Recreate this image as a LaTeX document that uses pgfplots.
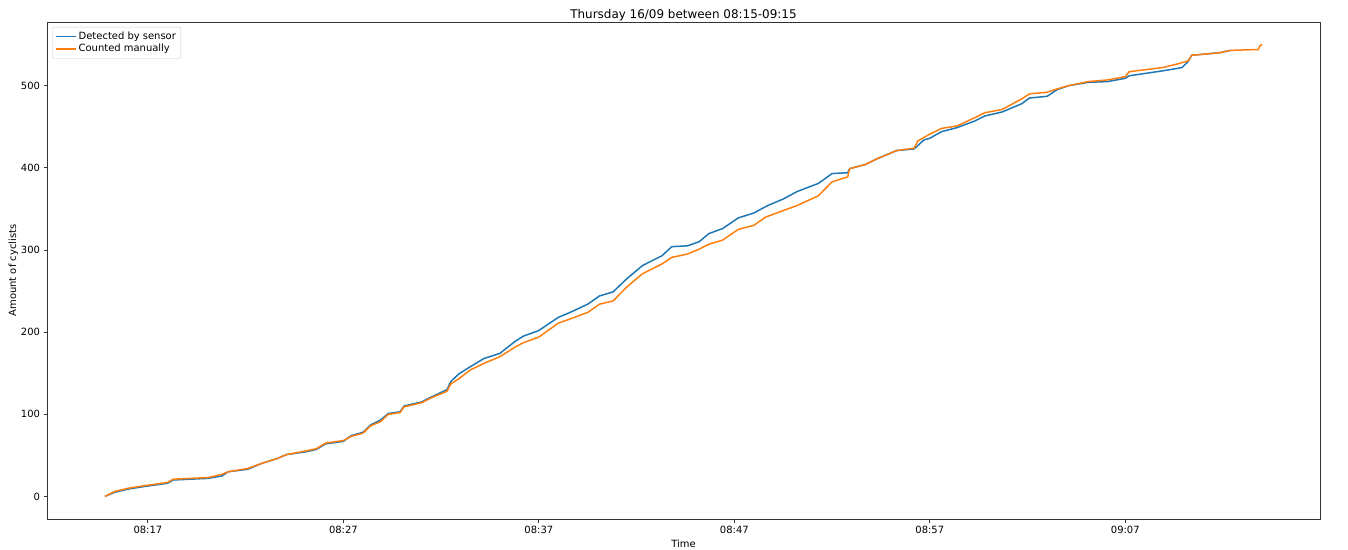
\documentclass[border=0pt]{standalone}
\usepackage{pgfplots}
\pgfplotsset{compat=1.18}
\usepackage{fontspec}
\setmainfont{DejaVu Sans}
\definecolor{mplblue}{HTML}{1F77B4}
\definecolor{mplorange}{HTML}{FF7F0E}

% minutes after 08:00, cumulative count
\pgfplotstableread{
t n
14.8 0
15.3 5
16.0 9
16.8 12
18.0 16
18.3 20
20.1 22
20.8 25
21.1 30
22.1 33
22.8 40
23.6 46
24.1 51
25.0 54
25.6 57
26.1 64
27.0 67
27.4 74
28.0 78
28.4 87
28.9 93
29.3 101
29.9 103
30.1 110
31.0 115
31.5 121
32.3 130
32.5 140
32.9 149
33.5 158
34.2 168
35.0 174
35.8 189
36.2 195
37.0 202
38.0 218
38.6 224
39.5 234
40.1 244
40.8 249
41.5 265
42.3 281
43.3 293
43.8 304
44.6 305
45.2 310
45.7 320
46.4 326
47.2 339
48.0 345
48.7 354
49.5 362
50.2 371
51.3 381
52.0 393
52.8 394
52.9 399
53.7 404
54.3 411
55.3 421
56.2 423
56.7 434
57.0 436
57.6 444
58.4 449
59.3 457
59.8 463
60.7 468
61.7 478
62.1 485
63.0 487
63.5 495
64.1 500
65.1 504
66.1 505
67.0 509
67.2 512
68.9 518
69.9 522
70.2 529
70.4 537
71.8 540
72.4 543
}\sensor

\pgfplotstableread{
t n
14.8 0
15.3 6
16.0 10
16.8 13
18.0 17
18.3 21
20.1 23
20.8 27
21.1 30
22.1 34
22.8 40
23.6 46
24.1 51
25.0 55
25.6 58
26.1 65
27.0 68
27.4 73
28.0 77
28.4 86
28.9 91
29.3 100
29.9 102
30.1 109
31.0 114
31.5 120
32.3 128
32.5 137
32.9 143
33.5 154
34.2 162
35.0 170
35.8 182
36.2 187
37.0 194
38.0 211
38.6 216
39.5 224
40.1 234
40.8 238
41.5 255
42.3 271
43.3 283
43.8 291
44.6 295
45.2 301
45.7 307
46.4 312
47.2 325
48.0 330
48.6 340
49.5 348
50.2 354
51.3 366
52.0 383
52.8 389
52.9 399
53.7 404
54.3 411
55.3 421
56.2 424
56.4 433
57.0 441
57.6 448
58.4 451
59.3 461
59.8 467
60.7 471
61.7 484
62.1 490
63.0 492
63.5 496
64.1 500
65.1 505
66.1 507
67.0 511
67.2 517
68.9 522
69.6 526
70.2 530
70.4 537
71.8 540
72.4 543
73.8 544
73.9 549
74.0 550
}\manual

\begin{document}
\begin{tikzpicture}
\begin{axis}[
    scale only axis,
    width=1273bp, height=497bp,
    xmin=11.84, xmax=76.96,
    ymin=-27.5, ymax=577.5,
    xtick={17,27,37,47,57,67,77},
    xticklabels={08:17,08:27,08:37,08:47,08:57,09:07,09:17},
    ytick={0,100,200,300,400,500},
    /pgf/number format/assume math mode=true,
    tick label style={font=\fontsize{10}{12}\selectfont},
    label style={font=\fontsize{10}{12}\selectfont},
    title style={font=\fontsize{12}{14}\selectfont, yshift=-8bp},
    title={Thursday 16/09 between 08:15-09:15},
    xlabel={Time}, ylabel={Amount of cyclists},
    ylabel style={yshift=-4bp},
    tick align=outside,
    major tick length=3.5bp,
    tick style={black!80, line width=0.8bp},
    axis line style={black!80, line width=0.8bp},
    xtick pos=bottom, ytick pos=left,
    legend cell align=left,
    legend style={at={(rel axis cs:0,1)}, anchor=north west,
      xshift=5bp, yshift=-5bp, draw=black!20, rounded corners=2bp,
      font=\fontsize{10}{12}\selectfont, row sep=-1bp, inner sep=3bp},
    legend image code/.code={\draw[#1, line width=1.5bp] (0bp,0bp) -- (20bp,0bp);},
]
\addplot[mplblue, line width=1.5bp] table[x=t, y=n] {\sensor};
\addplot[mplorange, line width=1.5bp] table[x=t, y=n] {\manual};
\legend{Detected by sensor, Counted manually}
\coordinate (sw) at (rel axis cs:0,0);
\coordinate (ne) at (rel axis cs:1,1);
\end{axis}
\pgfresetboundingbox
\useasboundingbox ([shift={(-47bp,-30bp)}]sw) rectangle ([shift={(28bp,22bp)}]ne);
\end{tikzpicture}
\end{document}
